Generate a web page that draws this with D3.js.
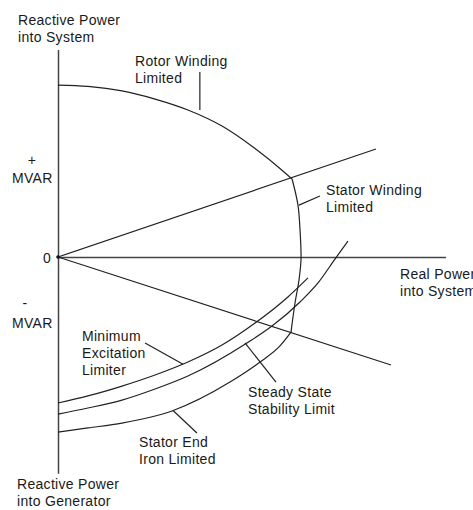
<!DOCTYPE html>
<html>
<head>
<meta charset="utf-8">
<script src="https://cdn.jsdelivr.net/npm/d3@7/dist/d3.min.js"></script>
<style>
  body { margin: 0; background: #fff; }
  text { font-family: "Liberation Sans", Arial, sans-serif; font-size: 14px; letter-spacing: 0.3px; fill: #1a1a1a; }
</style>
</head>
<body>
<div id="chart"></div>
<script>
// Curve data, per-unit (P = real power, Q = reactive power)
const rotorLimit = [[0, 0.994], [0.173, 0.986], [0.37, 0.96], [0.561, 0.913], [0.751, 0.85], [0.948, 0.757], [1.139, 0.627], [1.283, 0.512], [1.353, 0.451]];
const statorLimit = [[1.353, 0.451], [1.387, 0.301], [1.399, 0.156], [1.405, 0.0], [1.393, -0.133], [1.37, -0.266], [1.347, -0.434]];
const minExcitation = [[0, -0.844], [0.173, -0.803], [0.37, -0.746], [0.561, -0.682], [0.751, -0.607], [0.948, -0.509], [1.139, -0.382], [1.329, -0.231], [1.445, -0.121]];
const steadyState = [[0, -0.908], [0.173, -0.873], [0.37, -0.827], [0.561, -0.763], [0.751, -0.688], [1.092, -0.497], [1.237, -0.399], [1.399, -0.26], [1.503, -0.15], [1.601, -0.012], [1.676, 0.092]];
const statorEndIron = [[0, -1.012], [0.173, -0.988], [0.37, -0.96], [0.659, -0.89], [0.994, -0.723], [1.168, -0.607], [1.283, -0.514], [1.347, -0.434]];
// power factor lines from origin
const pfLines = [[1.838, 0.624], [1.925, -0.624]];

// Axis extents
const pMax = 2.24;
const qTop = 1.2, qBottom = -1.25;

// Chart dimensions
const width = 473, height = 510;
const origin = { x: 58, y: 257 };
const unit = 173;

const svg = d3.select("#chart")
  .append("svg")
  .attr("width", width)
  .attr("height", height);

const x = d3.scaleLinear().domain([0, 1]).range([origin.x, origin.x + unit]);
const y = d3.scaleLinear().domain([0, 1]).range([origin.y, origin.y - unit]);

// Axes (no ticks, just the lines)
svg.append("g")
  .attr("transform", "translate(0," + origin.y + ")")
  .call(d3.axisBottom(x.copy().domain([0, pMax]).range([x(0), x(pMax)])).tickValues([]).tickSizeOuter(0))
  .select(".domain").attr("stroke", "#444").attr("stroke-width", 1.5);

svg.append("g")
  .attr("transform", "translate(" + origin.x + ",0)")
  .call(d3.axisLeft(y.copy().domain([qTop, qBottom]).range([y(qTop), y(qBottom)])).tickValues([]).tickSizeOuter(0))
  .select(".domain").attr("stroke", "#444").attr("stroke-width", 1.5);

const lineX = d3.line()
  .x(d => x(d[0]))
  .y(d => y(d[1]))
  .curve(d3.curveMonotoneX);

const lineY = d3.line()
  .x(d => x(d[0]))
  .y(d => y(d[1]))
  .curve(d3.curveMonotoneY);

const curves = [
  { pts: rotorLimit, gen: lineX },
  { pts: statorLimit, gen: lineY },
  { pts: minExcitation, gen: lineX },
  { pts: steadyState, gen: lineX },
  { pts: statorEndIron, gen: lineX }
];
svg.selectAll(".curve")
  .data(curves)
  .enter()
  .append("path")
  .attr("class", "curve")
  .attr("d", d => d.gen(d.pts))
  .attr("fill", "none")
  .attr("stroke", "#222")
  .attr("stroke-width", 1.2);

svg.selectAll(".pf")
  .data(pfLines)
  .enter()
  .append("line")
  .attr("class", "pf")
  .attr("x1", x(0))
  .attr("y1", y(0))
  .attr("x2", d => x(d[0]))
  .attr("y2", d => y(d[1]))
  .attr("stroke", "#222")
  .attr("stroke-width", 1.2);

svg.append("circle")
  .attr("cx", x(0)).attr("cy", y(0)).attr("r", 1.8).attr("fill", "#111");

// Pointer lines for curve labels (from label to curve)
const pointers = [
  [[0.82, 1.07], [0.82, 0.85]],
  [[1.514, 0.353], [1.393, 0.30]],
  [[0.503, -0.497], [0.723, -0.62]],
  [[1.26, -0.723], [1.081, -0.497]],
  [[0.803, -1.017], [0.665, -0.887]]
];
svg.selectAll(".pointer")
  .data(pointers)
  .enter()
  .append("line")
  .attr("class", "pointer")
  .attr("x1", d => x(d[0][0]))
  .attr("y1", d => y(d[0][1]))
  .attr("x2", d => x(d[1][0]))
  .attr("y2", d => y(d[1][1]))
  .attr("stroke", "#222")
  .attr("stroke-width", 1.2);

// Text labels: [left x, first baseline y, lines]
const labels = [
  [18, 25, ["Reactive Power", "into System"]],
  [135, 66, ["Rotor Winding", "Limited"]],
  [12, 183, ["MVAR"]],
  [12, 328, ["MVAR"]],
  [43, 263, ["0"]],
  [326, 195, ["Stator Winding", "Limited"]],
  [400, 279, ["Real Power", "into System"]],
  [82, 341, ["Minimum", "Excitation", "Limiter"]],
  [248, 397, ["Steady State", "Stability Limit"]],
  [139, 447, ["Stator End", "Iron Limited"]],
  [17, 489, ["Reactive Power", "into Generator"]]
];

labels.forEach(([lx, ly, lines]) => {
  const t = svg.append("text").attr("x", lx).attr("y", ly);
  lines.forEach((s, i) => {
    t.append("tspan").attr("x", lx).attr("dy", i === 0 ? 0 : 17).text(s);
  });
});

svg.append("text").attr("x", 32).attr("y", 165).attr("text-anchor", "middle").text("+");
svg.append("text").attr("x", 25).attr("y", 308).attr("text-anchor", "middle").text("-");
</script>
</body>
</html>
